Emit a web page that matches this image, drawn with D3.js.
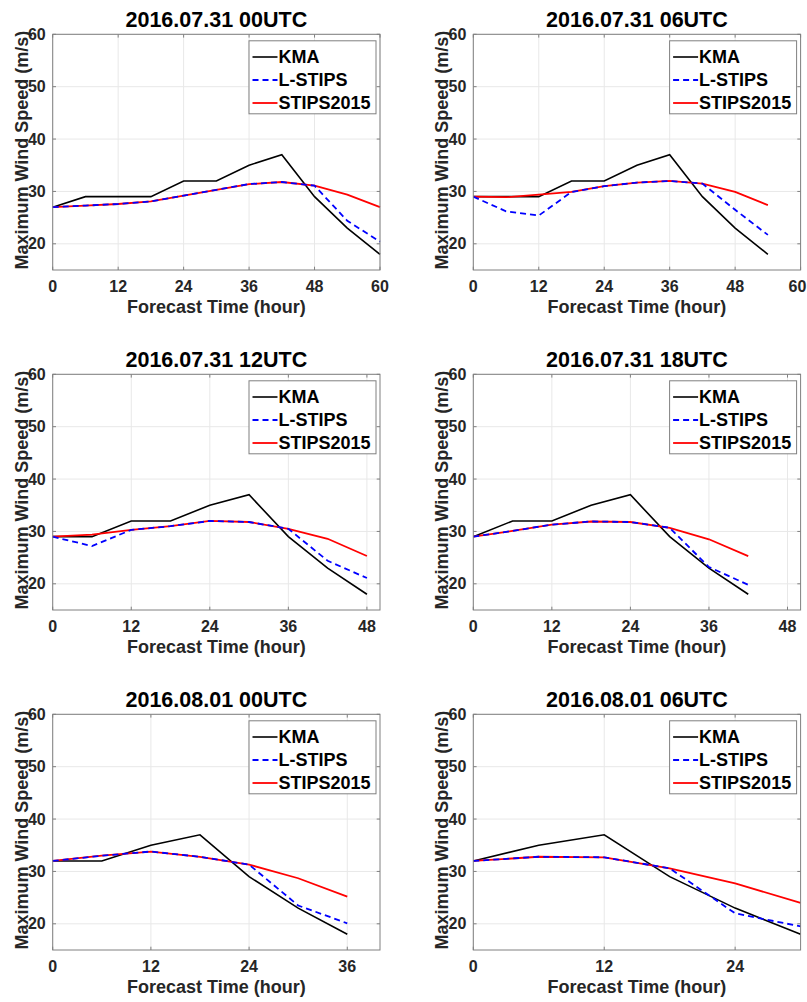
<!DOCTYPE html>
<html><head><meta charset="utf-8">
<script src="https://cdn.jsdelivr.net/npm/d3@7"></script>
<style>
body{margin:0;background:#fff}
svg{display:block}
text{font-family:"Liberation Sans",Arial,Helvetica,sans-serif;font-weight:bold}
</style>
</head><body>
<svg id="c" width="807" height="1002"></svg>
<script>
const titles = ["2016.07.31 00UTC","2016.07.31 06UTC","2016.07.31 12UTC","2016.07.31 18UTC","2016.08.01 00UTC","2016.08.01 06UTC"];
const xMax = [60,60,50,50,40,30];
const xTicks = [[0,12,24,36,48,60],[0,12,24,36,48,60],[0,12,24,36,48],[0,12,24,36,48],[0,12,24,36],[0,12,24]];
const yTicks = [20,30,40,50,60];
const hours = [0,6,12,18,24,30,36,42,48,54,60];
const seriesNames = ["KMA","L-STIPS","STIPS2015"];
const seriesColors = ["#000000","#0000ff","#ff0000"];
const kma = [
 [27,29,29,29,32,32,35,37,29,23,18],
 [29,29,29,32,32,35,37,29,23,18],
 [29,29,32,32,35,37,29,23,18],
 [29,32,32,35,37,29,23,18],
 [32,32,35,37,29,23,18],
 [32,35,37,29,23,18]];
const lstips = [
 [27,27.3,27.6,28.1,29.2,30.3,31.4,31.8,31.1,24.4,20.4],
 [29,26.2,25.4,29.9,31,31.7,32,31.5,26.5,21.7],
 [29,27.2,30.3,31,32,31.8,30.5,24.4,21.1],
 [29,30.1,31.3,31.9,31.8,30.7,23.2,19.8],
 [32,33,33.8,32.8,31.3,23.5,20.1],
 [32,32.8,32.7,30.6,22,19.5]];
const stips = [
 [27,27.3,27.6,28.1,29.2,30.3,31.4,31.8,31.1,29.4,27],
 [29,28.9,29.4,29.9,31,31.7,32,31.5,29.9,27.4],
 [29,29.4,30.3,31,32,31.8,30.5,28.6,25.3],
 [29,30.1,31.3,31.9,31.8,30.7,28.5,25.3],
 [32,33,33.8,32.8,31.3,28.7,25.2],
 [32,32.8,32.7,30.6,27.7,24]];

const svg = d3.select("#c");
const W = 327.3, H = 235.7;
const axisColor = "#808080", labelColor = "#262626";

titles.forEach((title, i) => {
  const col = i % 2, row = Math.floor(i / 2);
  const left = col === 0 ? 52.7 : 473.3;
  const top = 34.3 + 340 * row;
  const x = d3.scaleLinear().domain([0, xMax[i]]).range([left, left + W]);
  const y = d3.scaleLinear().domain([15, 60]).range([top + H, top]);
  const g = svg.append("g");

  // grid
  g.selectAll(null).data(xTicks[i]).join("line")
    .attr("x1", d => x(d)).attr("x2", d => x(d))
    .attr("y1", top).attr("y2", top + H)
    .attr("stroke", "#e8e8e8").attr("stroke-width", 1);
  g.selectAll(null).data(yTicks).join("line")
    .attr("x1", left).attr("x2", left + W)
    .attr("y1", d => y(d)).attr("y2", d => y(d))
    .attr("stroke", "#e8e8e8").attr("stroke-width", 1);

  // lines
  const line = d3.line().x((d, k) => x(hours[k])).y(d => y(d));
  g.append("path").attr("d", line(kma[i])).attr("fill", "none")
    .attr("stroke", seriesColors[0]).attr("stroke-width", 1.6);
  g.append("path").attr("d", line(stips[i])).attr("fill", "none")
    .attr("stroke", seriesColors[2]).attr("stroke-width", 1.8);
  g.append("path").attr("d", line(lstips[i])).attr("fill", "none")
    .attr("stroke", seriesColors[1]).attr("stroke-width", 1.8)
    .attr("stroke-dasharray", "6,4");

  // box
  g.append("rect").attr("x", left).attr("y", top).attr("width", W).attr("height", H)
    .attr("fill", "none").attr("stroke", axisColor).attr("stroke-width", 1);
  // ticks inward
  const tl = 3.3;
  xTicks[i].forEach(t => {
    g.append("line").attr("x1", x(t)).attr("x2", x(t)).attr("y1", top + H).attr("y2", top + H - tl).attr("stroke", axisColor);
    g.append("line").attr("x1", x(t)).attr("x2", x(t)).attr("y1", top).attr("y2", top + tl).attr("stroke", axisColor);
  });
  yTicks.forEach(t => {
    g.append("line").attr("x1", left).attr("x2", left + tl).attr("y1", y(t)).attr("y2", y(t)).attr("stroke", axisColor);
    g.append("line").attr("x1", left + W).attr("x2", left + W - tl).attr("y1", y(t)).attr("y2", y(t)).attr("stroke", axisColor);
  });

  // tick labels
  g.selectAll(null).data(xTicks[i]).join("text")
    .attr("x", d => Math.min(x(d), 797.5)).attr("y", top + H + 22)
    .attr("text-anchor", "middle").attr("font-size", 16).attr("fill", labelColor)
    .text(d => d);
  g.selectAll(null).data(yTicks).join("text")
    .attr("x", left - 7).attr("y", d => y(d) + 5.6)
    .attr("text-anchor", "end").attr("font-size", 16).attr("fill", labelColor)
    .text(d => d);

  // axis labels
  g.append("text").attr("x", left + W / 2).attr("y", top + H + 43)
    .attr("text-anchor", "middle").attr("font-size", 18).attr("fill", labelColor)
    .text("Forecast Time (hour)");
  g.append("text")
    .attr("transform", `translate(${left - 25},${top + H / 2 - 2}) rotate(-90)`)
    .attr("text-anchor", "middle").attr("font-size", 18).attr("fill", labelColor)
    .text("Maximum Wind Speed (m/s)");

  // title
  g.append("text").attr("x", left + W / 2).attr("y", top - 7.5)
    .attr("text-anchor", "middle").attr("font-size", 21.5).attr("fill", "#000")
    .text(title);

  // legend
  const lx = left + 196.3, ly = top + 6.5, lw = 127, lh = 73;
  g.append("rect").attr("x", lx).attr("y", ly).attr("width", lw).attr("height", lh)
    .attr("fill", "#fff").attr("stroke", axisColor).attr("stroke-width", 1);
  seriesNames.forEach((name, k) => {
    const cy = top + 22.7 + 23 * k;
    g.append("line").attr("x1", lx + 3.5).attr("x2", lx + 28.5).attr("y1", cy).attr("y2", cy)
      .attr("stroke", seriesColors[k]).attr("stroke-width", k === 0 ? 1.6 : 1.8)
      .attr("stroke-dasharray", k === 1 ? "6,4" : null);
    g.append("text").attr("x", lx + 29.5).attr("y", cy + 6.4)
      .attr("font-size", 18).attr("fill", "#000").text(name);
  });
});
</script>
</body></html>
